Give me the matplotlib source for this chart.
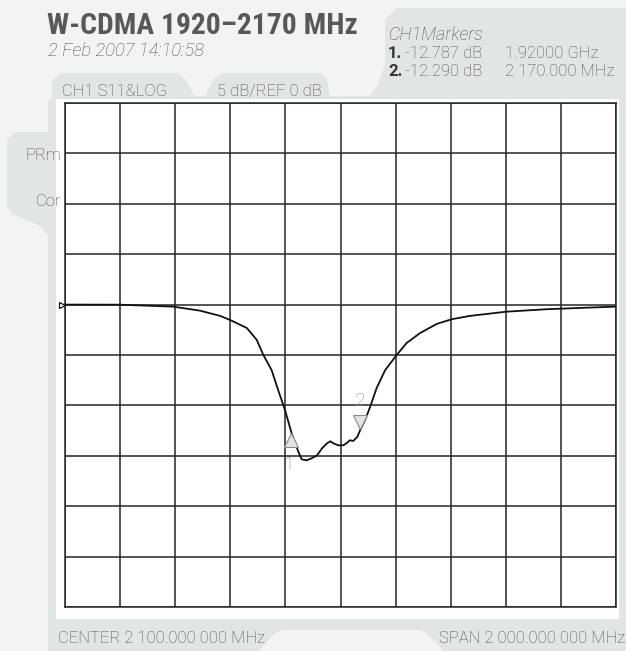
import matplotlib
matplotlib.use("Agg")
import matplotlib.pyplot as plt
from matplotlib.patches import Polygon, Rectangle, FancyBboxPatch
import matplotlib.transforms as mtransforms

# ---------------- data ----------------
freq_mhz = [1100, 1300, 1492, 1590, 1663, 1699, 1760, 1796, 1820, 1850, 1874, 1899,
            1923, 1947, 1959, 1977, 1995, 2015, 2033, 2051, 2063, 2074, 2092, 2110,
            2123, 2134, 2146, 2161, 2171, 2189, 2207, 2231, 2262, 2304, 2340, 2389,
            2449, 2504, 2570, 2703, 2848, 2969, 3100]
s11_db = [0.0, -0.01, -0.2, -0.6, -1.12, -1.52, -2.32, -3.5, -5.0, -6.5, -8.5, -10.5,
          -12.8, -14.6, -15.35, -15.45, -15.25, -14.95, -14.26, -13.76, -13.56, -13.76,
          -13.96, -13.96, -13.73, -13.46, -13.53, -13.13, -12.47, -11.47, -10.18, -8.29,
          -6.5, -5.0, -3.81, -2.82, -1.92, -1.45, -1.12, -0.70, -0.46, -0.33, -0.2]
marker_freq = [1920, 2170]
marker_db = [-12.787, -12.290]
marker_names = ["1", "2"]
f_start, f_stop = 1100, 3100
ref_db, db_per_div = 0, 5
y_bottom, y_top = -30, 20

title = "W-CDMA 1920\u20132170 MHz"
date_text = "2 Feb 2007 14:10:58"
marker_rows = [("1.", "-12.787 dB", "1.92000 GHz"),
               ("2.", "-12.290 dB", "2 170.000 MHz")]
tab1 = "CH1 S11&LOG"
tab2 = "5 dB/REF 0 dB"
center_text = "CENTER 2 100.000 000 MHz"
span_text = "SPAN 2 000.000 000 MHz"

# ---------------- figure ----------------
W, H = 626, 651
fig = plt.figure(figsize=(W / 100, H / 100), dpi=100)
BG = "#f2f4f3"
TAB = "#e1e6e3"
TXT = "#4e4e4e"
fig.patch.set_facecolor(BG)

bg = fig.add_axes([0, 0, 1, 1], zorder=0)
bg.set_xlim(0, W)
bg.set_ylim(H, 0)
bg.axis("off")

def poly(pts, color):
    bg.add_patch(Polygon(pts, closed=True, facecolor=color, edgecolor="none"))

# frame
bg.add_patch(FancyBboxPatch((48, 96), 578 + 20, 555 + 20,
                            boxstyle="round,pad=0,rounding_size=9",
                            facecolor=TAB, edgecolor="none"))
# bottom notch (background colour)
poly([(258, 652), (274, 634), (282, 630), (420, 630), (428, 634), (444, 652)], BG)
# left tab
poly([(56, 132), (15, 132), (7, 140), (7, 206), (12, 214), (40, 226), (48, 236), (56, 236)], TAB)
# top tabs
poly([(52, 100), (52, 81), (60, 73), (178, 73), (185, 79), (195, 97), (200, 100)], TAB)
poly([(204, 100), (209, 88), (214, 78), (222, 73), (320, 73), (327, 79), (330, 100)], TAB)
# markers panel
poly([(368, 100), (378, 84), (385, 64), (385, 20), (397, 8), (626, 8), (626, 100)], TAB)
# white display area
bg.add_patch(Rectangle((56, 99), 563, 520, facecolor="white", edgecolor="none"))

# ---------------- texts ----------------
LIGHT = ["Roboto", "DejaVu Sans"]
FS = 12
bg.text(47, 34, title, fontsize=21.3, fontweight="bold", color="#585858",
        family=["Roboto Condensed", "Liberation Sans Narrow", "Roboto", "DejaVu Sans"],
        va="baseline", ha="left")
bg.text(48, 56, date_text, fontsize=13.2, style="italic", fontweight="light",
        color=TXT, family=LIGHT, va="baseline")
bg.text(389, 40, "CH1Markers", fontsize=13, style="italic", fontweight="light",
        color=TXT, family=LIGHT, va="baseline")
for i, (n, v, f) in enumerate(marker_rows):
    yb = 58 + i * 17.5
    bg.text(388, yb, n, fontsize=FS, fontweight="bold", color="#333333",
            family=LIGHT, va="baseline")
    bg.text(405, yb, v, fontsize=FS, fontweight="light", color=TXT,
            family=LIGHT, va="baseline")
    bg.text(505, yb, f, fontsize=FS, fontweight="light", color=TXT,
            family=LIGHT, va="baseline")
bg.text(62, 96, tab1, fontsize=FS, fontweight="light", color=TXT, family=LIGHT, va="baseline")
bg.text(217, 96, tab2, fontsize=FS, fontweight="light", color=TXT, family=LIGHT, va="baseline")
bg.text(61, 160, "PRm", fontsize=FS, fontweight="light", color=TXT, family=LIGHT,
        va="baseline", ha="right")
bg.text(61, 206, "Cor", fontsize=FS, fontweight="light", color=TXT, family=LIGHT,
        va="baseline", ha="right")
bg.text(58, 643, center_text, fontsize=FS, fontweight="light", color=TXT, family=LIGHT,
        va="baseline")
bg.text(625, 643, span_text, fontsize=FS, fontweight="light", color=TXT, family=LIGHT,
        va="baseline", ha="right")

# ---------------- plot ----------------
left, right, top, bottom = 65, 616, 103, 607
ax = fig.add_axes([left / W, 1 - bottom / H, (right - left) / W, (bottom - top) / H], zorder=2)
ax.set_facecolor("none")
ax.set_xlim(f_start, f_stop)
ax.set_ylim(y_bottom, y_top)
ax.set_xticks(range(f_start, f_stop + 1, 200))
ax.set_yticks(range(y_bottom, y_top + 1, db_per_div))
ax.tick_params(length=0, labelbottom=False, labelleft=False)
ax.grid(True, color="#262626", linewidth=1.1)
for s in ax.spines.values():
    s.set_color("#262626")
    s.set_linewidth(1.1)

ax.plot(freq_mhz, s11_db, color="#111111", linewidth=1.3, zorder=3)

# reference position marker
ref_tr = mtransforms.offset_copy(ax.transData, fig=fig, x=-2.2, y=0, units="points")
ax.plot([f_start], [ref_db], marker=">", ms=4.5, mfc="white", mec="#111111", mew=0.9,
        transform=ref_tr, clip_on=False, zorder=4)

# markers
ms = 9.5
for fq, db, name in zip(marker_freq, marker_db, marker_names):
    if name == "1":
        tr = mtransforms.offset_copy(ax.transData, fig=fig, x=0, y=-ms / 2, units="points")
        ax.plot([fq], [db], marker="^", ms=ms, mfc="#e4e4e4", mec="#8a8a8a", mew=0.8,
                transform=tr, zorder=4, clip_on=False)
        ltr = mtransforms.offset_copy(ax.transData, fig=fig, x=-1.5, y=-ms - 6.5, units="points")
        ax.text(fq, db, name, transform=ltr, ha="center", va="top", fontsize=14,
                fontweight="light", color="#8a8a8a", family=LIGHT, zorder=4)
    else:
        tr = mtransforms.offset_copy(ax.transData, fig=fig, x=0, y=ms / 2, units="points")
        ax.plot([fq], [db], marker="v", ms=ms, mfc="#e4e4e4", mec="#8a8a8a", mew=0.8,
                transform=tr, zorder=4, clip_on=False)
        ltr = mtransforms.offset_copy(ax.transData, fig=fig, x=0, y=ms + 3.5, units="points")
        ax.text(fq, db, name, transform=ltr, ha="center", va="bottom", fontsize=14,
                fontweight="light", color="#8a8a8a", family=LIGHT, zorder=4)

fig.savefig("out.png", dpi=100, facecolor=BG)
